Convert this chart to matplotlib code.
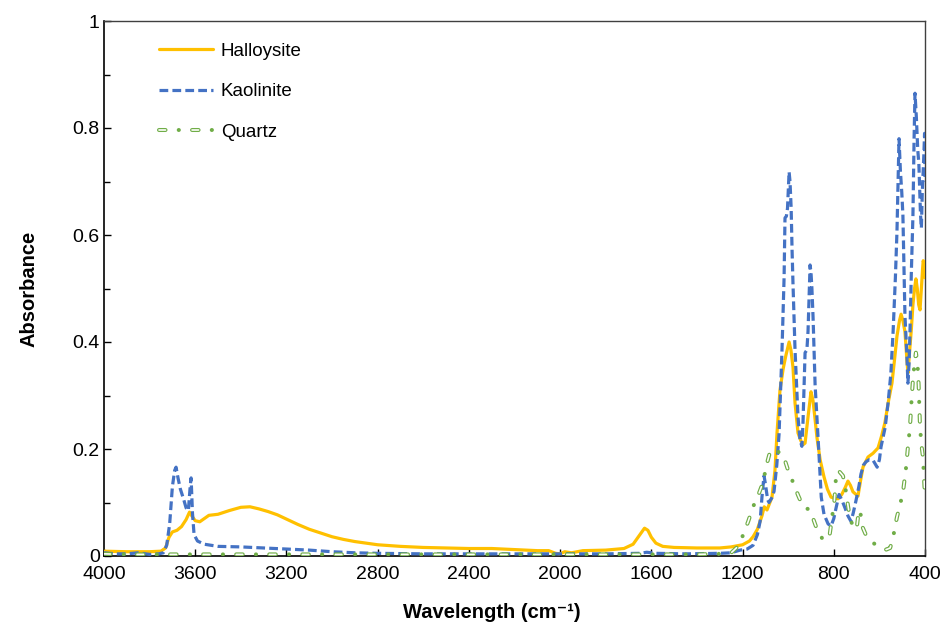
import matplotlib
matplotlib.use("Agg")
import matplotlib.pyplot as plt

plt.rcParams['font.family'] = ['Liberation Sans', 'DejaVu Sans']
plt.rcParams['lines.scale_dashes'] = False

# ---- FTIR spectra (wavenumber in cm-1, absorbance) ----
halloysite_wn = [4000, 3900, 3800, 3750, 3730, 3715, 3700, 3680, 3660, 3640, 3625, 3615,
                 3600, 3580, 3560, 3540, 3500, 3450, 3400, 3360, 3320, 3280, 3240, 3200,
                 3150, 3100, 3050, 3000, 2950, 2900, 2850, 2800, 2700, 2600, 2500, 2400,
                 2300, 2200, 2100, 2050, 2020, 2000, 1980, 1950, 1900, 1800, 1720, 1680,
                 1650, 1630, 1615, 1600, 1580, 1550, 1500, 1400, 1300, 1250, 1200, 1170,
                 1154, 1135, 1115, 1105, 1093, 1071, 1058, 1049, 1036, 1022, 1010, 996,
                 988, 979, 970, 957, 944, 935, 926, 913, 900, 891, 882, 874, 860, 843,
                 828, 812, 796, 781, 765, 750, 738, 727, 716, 705, 694, 683, 672, 650,
                 628, 606, 590, 576, 560, 545, 533, 523, 512, 505, 497, 488, 480, 475,
                 468, 460, 453, 446, 440, 434, 428, 422, 416, 411, 408, 404, 400]
halloysite_abs = [0.009, 0.008, 0.008, 0.009, 0.015, 0.035, 0.045, 0.048, 0.055, 0.068, 0.082, 0.075,
                  0.066, 0.064, 0.070, 0.076, 0.078, 0.085, 0.091, 0.092, 0.088, 0.083, 0.077, 0.069,
                  0.059, 0.050, 0.043, 0.036, 0.031, 0.027, 0.024, 0.021, 0.018, 0.016, 0.015, 0.014,
                  0.014, 0.012, 0.010, 0.010, 0.005, 0.004, 0.008, 0.006, 0.010, 0.011, 0.014, 0.022,
                  0.040, 0.052, 0.048, 0.035, 0.024, 0.018, 0.016, 0.015, 0.015, 0.017, 0.021, 0.028,
                  0.036, 0.050, 0.075, 0.092, 0.086, 0.110, 0.160, 0.230, 0.310, 0.350, 0.375, 0.400,
                  0.385, 0.353, 0.286, 0.230, 0.215, 0.208, 0.211, 0.260, 0.307, 0.290, 0.255, 0.222,
                  0.180, 0.148, 0.125, 0.110, 0.108, 0.107, 0.115, 0.128, 0.140, 0.132, 0.120, 0.116,
                  0.112, 0.140, 0.166, 0.185, 0.192, 0.202, 0.225, 0.249, 0.290, 0.323, 0.370, 0.411,
                  0.440, 0.452, 0.440, 0.419, 0.370, 0.342, 0.380, 0.424, 0.470, 0.500, 0.518, 0.500,
                  0.470, 0.460, 0.500, 0.535, 0.552, 0.545, 0.520]

kaolinite_wn = [4000, 3950, 3900, 3850, 3800, 3760, 3740, 3725, 3712, 3700, 3690, 3684, 3675,
                3665, 3650, 3640, 3630, 3622, 3618, 3612, 3605, 3590, 3560, 3500, 3400, 3300,
                3200, 3100, 3000, 2900, 2800, 2600, 2400, 2200, 2000, 1800, 1650, 1620, 1580,
                1450, 1300, 1250, 1211, 1180, 1154, 1135, 1123, 1115, 1106, 1100, 1090, 1084,
                1070, 1062, 1050, 1040, 1027, 1018, 1014, 1008, 1003, 996, 992, 987, 983, 979,
                970, 957, 948, 940, 935, 926, 918, 913, 904, 900, 896, 891, 882, 874, 865, 855,
                843, 825, 812, 800, 790, 777, 765, 751, 738, 725, 715, 703, 690, 681, 670, 659,
                645, 628, 610, 600, 593, 575, 562, 550, 540, 530, 523, 518, 514, 508, 502, 497,
                488, 480, 475, 470, 466, 460, 453, 448, 444, 438, 432, 427, 420, 416, 412, 405,
                402, 400]
kaolinite_abs = [0.006, 0.004, 0.004, 0.006, 0.003, 0.004, 0.006, 0.020, 0.060, 0.130, 0.160, 0.166, 0.145,
                 0.125, 0.105, 0.090, 0.085, 0.130, 0.146, 0.080, 0.040, 0.028, 0.022, 0.018, 0.017, 0.015,
                 0.013, 0.011, 0.008, 0.006, 0.005, 0.004, 0.004, 0.004, 0.004, 0.004, 0.005, 0.007, 0.005,
                 0.004, 0.005, 0.006, 0.011, 0.013, 0.020, 0.040, 0.065, 0.110, 0.150, 0.135, 0.105, 0.100,
                 0.110, 0.121, 0.170, 0.228, 0.387, 0.520, 0.632, 0.635, 0.650, 0.718, 0.700, 0.650, 0.572, 0.510,
                 0.385, 0.260, 0.217, 0.205, 0.250, 0.380, 0.385, 0.420, 0.544, 0.530, 0.500, 0.447, 0.320, 0.260,
                 0.190, 0.110, 0.078, 0.060, 0.056, 0.070, 0.090, 0.115, 0.105, 0.090, 0.075, 0.065, 0.080,
                 0.103, 0.130, 0.153, 0.170, 0.176, 0.180, 0.179, 0.166, 0.180, 0.204, 0.240, 0.286, 0.340,
                 0.419, 0.520, 0.607, 0.700, 0.780, 0.720, 0.680, 0.637, 0.449, 0.380, 0.323, 0.360, 0.419,
                 0.530, 0.637, 0.780, 0.865, 0.820, 0.760, 0.733, 0.640, 0.613, 0.680, 0.751, 0.790, 0.700]

quartz_wn = [4000, 3900, 3800, 3700, 3600, 3400, 3200, 3000, 2800, 2600, 2400, 2200, 2000,
             1800, 1600, 1400, 1300, 1250, 1220, 1198, 1175, 1154, 1130, 1110, 1095, 1080,
             1065, 1045, 1022, 1001, 979, 957, 935, 904, 873, 847, 820, 805, 798, 790, 780,
             770, 760, 750, 740, 729, 715, 700, 692, 685, 675, 660, 650, 620, 597, 570, 553,
             540, 523, 510, 497, 483, 475, 466, 460, 453, 445, 440, 433, 428, 422, 415, 409,
             405, 400]
quartz_abs = [0.004, 0.003, 0.003, 0.003, 0.003, 0.003, 0.003, 0.003, 0.003, 0.003, 0.003, 0.003, 0.003,
              0.003, 0.003, 0.003, 0.004, 0.006, 0.018, 0.039, 0.065, 0.092, 0.115, 0.138, 0.170, 0.194,
              0.200, 0.195, 0.189, 0.161, 0.138, 0.114, 0.092, 0.086, 0.049, 0.030, 0.034, 0.080, 0.100, 0.150, 0.160,
              0.155, 0.150, 0.130, 0.100, 0.070, 0.055, 0.050, 0.080, 0.086, 0.055, 0.040, 0.034, 0.022, 0.017, 0.012, 0.015,
              0.035, 0.073, 0.095, 0.118, 0.166, 0.204, 0.241, 0.285, 0.330, 0.365, 0.380, 0.360, 0.320, 0.241, 0.205, 0.185,
              0.150, 0.110]

x_ticks = [4000, 3600, 3200, 2800, 2400, 2000, 1600, 1200, 800, 400]
y_ticks = [0, 0.2, 0.4, 0.6, 0.8, 1]
y_tick_labels = ["0", "0.2", "0.4", "0.6", "0.8", "1"]

fig = plt.figure(figsize=(9.47, 6.25), dpi=100)
ax = fig.add_axes([0.1098, 0.1104, 0.867, 0.856])

l_hal, = ax.plot(halloysite_wn, halloysite_abs, color='#FFC000', lw=2.3,
                 solid_capstyle='round', solid_joinstyle='round', zorder=3)
l_kao, = ax.plot(kaolinite_wn, kaolinite_abs, color='#4472C4', lw=2.3,
                 dashes=(6.3, 3.0), dash_capstyle='butt', zorder=4)
# quartz: hollow long dash + dot pattern
q_dash = (4.7, 9.5, 0.1, 9.5)
l_qtz, = ax.plot(quartz_wn, quartz_abs, color='#70AD47', lw=2.9,
                 dashes=q_dash, dash_capstyle='round', zorder=5)
l_qtz_in, = ax.plot(quartz_wn, quartz_abs, color='white', lw=1.2,
                    dashes=(4.7, 19.1), dash_capstyle='round', zorder=6)

ax.set_xlim(4000, 400)
ax.set_ylim(0, 1)
ax.set_xticks(x_ticks)
ax.set_xticklabels([str(v) for v in x_ticks])
ax.set_yticks(y_ticks)
ax.set_yticklabels(y_tick_labels)
ax.set_yticks([0.1, 0.3, 0.5, 0.7, 0.9], minor=True)
ax.tick_params(axis='both', which='major', direction='in', length=5, width=1,
               labelsize=14, colors='black')
ax.tick_params(axis='y', which='major', pad=3)
ax.tick_params(axis='x', which='major', pad=7)
ax.tick_params(axis='y', which='minor', direction='in', length=4, width=1)
for side in ['left', 'bottom']:
    ax.spines[side].set_linewidth(1.2)
    ax.spines[side].set_color('black')
for side in ['top', 'right']:
    ax.spines[side].set_linewidth(1.0)
    ax.spines[side].set_color('#404040')

ax.set_ylabel('Absorbance', fontsize=14.5, fontweight='bold')
ax.yaxis.set_label_coords(-0.080, 0.5)
ax.set_xlabel('Wavelength (cm⁻¹)', fontsize=14.5, fontweight='bold')
ax.xaxis.set_label_coords(0.4726, -0.087)

ax.legend([l_hal, l_kao, (l_qtz, l_qtz_in)], ['Halloysite', 'Kaolinite', 'Quartz'],
          loc='upper left', bbox_to_anchor=(0.058, 0.974), frameon=False,
          fontsize=13.5, handlelength=2.9, handletextpad=0.4, labelspacing=1.25,
          borderaxespad=0)

fig.savefig('out.png', dpi=100)
